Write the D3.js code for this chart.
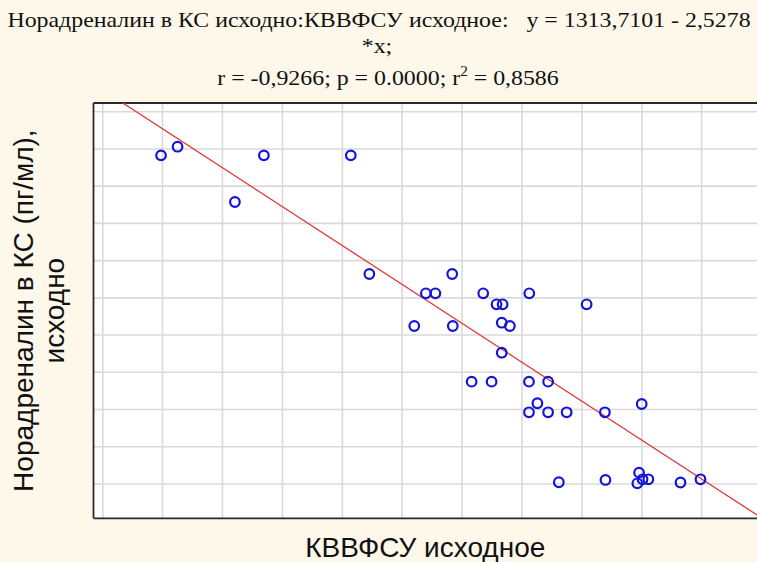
<!DOCTYPE html>
<html>
<head>
<meta charset="utf-8">
<script src="https://cdn.jsdelivr.net/npm/d3@7"></script>
<style>
  html, body { margin: 0; padding: 0; background: #fdf8ea; }
  svg { display: block; }
</style>
</head>
<body>
<svg id="chart" width="757" height="562"></svg>
<script>
// ---- Data ----
const xValues = [290.9, 296.6, 316.4, 326.4, 356.4, 362.8, 378.3, 382.3, 385.6, 391.4,
                 391.6, 398.1, 402.1, 405.0, 406.7, 408.8, 408.5, 408.5, 411.3, 418.0,
                 417.9, 417.9, 420.8, 424.5, 424.5, 428.2, 430.9, 437.8, 444.1, 444.3,
                 455.9, 455.3, 457.1, 459.1, 456.8, 470.2, 477.1];
const yValues = [541.4, 553.0, 478.7, 541.4, 541.4, 382.0, 312.2, 356.1, 356.1, 382.0,
                 312.2, 237.4, 356.1, 237.4, 341.3, 341.3, 316.6, 276.3, 312.2, 356.1,
                 237.4, 196.3, 208.4, 237.4, 196.3, 102.3, 196.3, 341.3, 196.3, 105.4,
                 115.2, 100.9, 106.3, 106.3, 207.4, 102.0, 106.3];
const regIntercept = 1313.7101;
const regSlope = -2.5278;
const xDomain = [267.59, 496.6];
const yDomain = [53.9, 611.7];
const xGridTicks = [270.8, 291.4, 312.1, 332.8, 353.5, 374.1, 394.8, 415.5, 436.2, 456.9, 477.5];
const yGridTicks = [100, 150, 200, 250, 300, 350, 400, 450, 500, 550, 600];
const titleLine1 = "Норадреналин в КС исходно:КВВФСУ исходное:   y = 1313,7101 - 2,5278";
const titleLine2 = "*x;";
const titleLine3a = "r = -0,9266; p = 0.0000; r";
const titleLine3b = "2";
const titleLine3c = " = 0,8586";
const xLabel = "КВВФСУ исходное";
const yLabel1 = "Норадреналин в КС (пг/мл),";
const yLabel2 = "исходно";

// ---- Layout ----
const svg = d3.select("#chart");
const plot = { left: 93.5, top: 103, right: 757, bottom: 518.3 };

const x = d3.scaleLinear().domain(xDomain).range([plot.left, plot.right]);
const y = d3.scaleLinear().domain(yDomain).range([plot.bottom, plot.top]);

svg.append("rect").attr("x", 0).attr("y", 0).attr("width", 757).attr("height", 562).attr("fill", "#fdf8ea");

svg.append("defs").append("clipPath").attr("id", "clip")
  .append("rect").attr("x", plot.left).attr("y", plot.top)
  .attr("width", 800 - plot.left).attr("height", plot.bottom - plot.top);

svg.append("rect")
  .attr("x", plot.left).attr("y", plot.top)
  .attr("width", 800 - plot.left).attr("height", plot.bottom - plot.top)
  .attr("fill", "#ffffff");

// grid
const grid = svg.append("g").attr("clip-path", "url(#clip)");
grid.selectAll("line.vx").data(xGridTicks).join("line")
  .attr("x1", d => x(d)).attr("x2", d => x(d))
  .attr("y1", plot.top).attr("y2", plot.bottom)
  .attr("stroke", "#dadada").attr("stroke-width", 1.6);
grid.selectAll("line.hy").data(yGridTicks).join("line")
  .attr("y1", d => y(d)).attr("y2", d => y(d))
  .attr("x1", plot.left).attr("x2", 800)
  .attr("stroke", "#dadada").attr("stroke-width", 1.6);

// frame (left, top, bottom)
const frame = svg.append("g").attr("stroke", "#2a2a2a").attr("stroke-width", 1.8).attr("fill", "none");
frame.append("line").attr("x1", plot.left).attr("x2", 800).attr("y1", plot.top).attr("y2", plot.top);
frame.append("line").attr("x1", plot.left).attr("x2", 800).attr("y1", plot.bottom).attr("y2", plot.bottom);
frame.append("line").attr("x1", plot.left).attr("x2", plot.left).attr("y1", plot.top).attr("y2", plot.bottom);

// regression line
const lineGen = d3.line().x(d => x(d)).y(d => y(regIntercept + regSlope * d));
svg.append("path")
  .attr("clip-path", "url(#clip)")
  .datum(xDomain)
  .attr("d", lineGen)
  .attr("fill", "none").attr("stroke", "#e0393e").attr("stroke-width", 1.3);

// points
const pts = xValues.map((v, i) => ({ x: v, y: yValues[i] }));
svg.append("g").selectAll("circle").data(pts).join("circle")
  .attr("cx", d => x(d.x)).attr("cy", d => y(d.y)).attr("r", 4.8)
  .attr("fill", "none").attr("stroke", "#1414d8").attr("stroke-width", 2.2);

// title (slightly widened like the reference)
const serif = "'Liberation Serif', 'Times New Roman', serif";
const title = svg.append("g").attr("font-family", serif).attr("font-size", 22).attr("fill", "#111");
title.append("text").attr("transform", "translate(379,27) scale(1.085,1)").attr("text-anchor", "middle")
  .style("white-space", "pre").text(titleLine1);
title.append("text").attr("transform", "translate(377,53) scale(1.085,1)").attr("text-anchor", "middle")
  .text(titleLine2);
const t3 = title.append("text").attr("transform", "translate(388,85) scale(1.085,1)").attr("text-anchor", "middle");
t3.append("tspan").text(titleLine3a);
t3.append("tspan").attr("dy", -9).attr("font-size", 14).text(titleLine3b);
t3.append("tspan").attr("dy", 9).text(titleLine3c);

// axis labels
const sans = "'Liberation Sans', Arial, sans-serif";
svg.append("text").attr("x", (plot.left + plot.right) / 2).attr("y", 557)
  .attr("text-anchor", "middle").attr("font-family", sans).attr("font-size", 28)
  .attr("fill", "#111").text(xLabel);
const yc = (plot.top + plot.bottom) / 2;
svg.append("text").attr("transform", `translate(33,${yc}) rotate(-90)`)
  .attr("text-anchor", "middle").attr("font-family", sans).attr("font-size", 28)
  .attr("fill", "#111").text(yLabel1);
svg.append("text").attr("transform", `translate(64,${yc}) rotate(-90)`)
  .attr("text-anchor", "middle").attr("font-family", sans).attr("font-size", 28)
  .attr("fill", "#111").text(yLabel2);
</script>
</body>
</html>
